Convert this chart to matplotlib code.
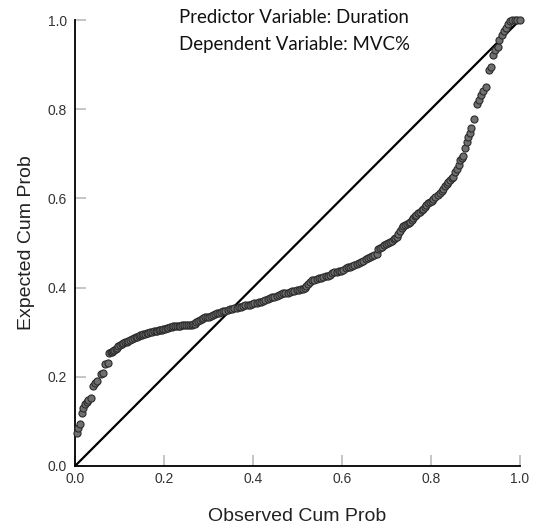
import numpy as np
import matplotlib
matplotlib.use("Agg")
import matplotlib.pyplot as plt

# observed vs expected cumulative probability
obs = [0.004, 0.007, 0.011, 0.015, 0.019, 0.022, 0.026, 0.030, 0.035, 0.040,
       0.045, 0.050, 0.058, 0.062, 0.067, 0.073, 0.077, 0.080, 0.082, 0.085,
       0.088, 0.091, 0.094, 0.097, 0.101, 0.105, 0.108, 0.112, 0.116, 0.120,
       0.124, 0.128, 0.132, 0.136, 0.139, 0.143, 0.147, 0.150, 0.153, 0.157,
       0.161, 0.165, 0.169, 0.173, 0.177, 0.181, 0.184, 0.188, 0.191, 0.195,
       0.198, 0.202, 0.206, 0.210, 0.213, 0.217, 0.221, 0.225, 0.229, 0.233,
       0.237, 0.241, 0.245, 0.249, 0.253, 0.258, 0.262, 0.266, 0.270, 0.273,
       0.277, 0.281, 0.285, 0.288, 0.292, 0.296, 0.300, 0.305, 0.310, 0.314,
       0.318, 0.323, 0.328, 0.333, 0.338, 0.343, 0.348, 0.353, 0.358, 0.363,
       0.368, 0.373, 0.378, 0.383, 0.388, 0.393, 0.398, 0.403, 0.408, 0.413,
       0.418, 0.423, 0.428, 0.433, 0.438, 0.443, 0.448, 0.453, 0.458, 0.463,
       0.468, 0.473, 0.478, 0.483, 0.488, 0.493, 0.498, 0.503, 0.508, 0.513,
       0.517, 0.520, 0.524, 0.528, 0.533, 0.538, 0.543, 0.548, 0.553, 0.558,
       0.563, 0.568, 0.573, 0.578, 0.583, 0.588, 0.593, 0.598, 0.603, 0.608,
       0.613, 0.618, 0.623, 0.628, 0.633, 0.638, 0.643, 0.648, 0.653, 0.658,
       0.663, 0.668, 0.673, 0.678, 0.682, 0.686, 0.690, 0.695, 0.700, 0.704,
       0.708, 0.712, 0.716, 0.720, 0.724, 0.727, 0.730, 0.734, 0.738, 0.742,
       0.746, 0.750, 0.753, 0.757, 0.760, 0.764, 0.767, 0.771, 0.775, 0.779,
       0.782, 0.786, 0.790, 0.794, 0.798, 0.802, 0.805, 0.810, 0.815, 0.820,
       0.824, 0.828, 0.831, 0.835, 0.839, 0.843, 0.847, 0.850, 0.855, 0.858,
       0.862, 0.865, 0.869, 0.873, 0.876, 0.880, 0.884, 0.888, 0.891, 0.897,
       0.903, 0.909, 0.912, 0.918, 0.924, 0.931, 0.934, 0.940, 0.945, 0.950,
       0.954, 0.959, 0.964, 0.969, 0.974, 0.978, 0.983, 0.989, 0.994, 1.000]
exp = [0.075, 0.085, 0.094, 0.118, 0.129, 0.139, 0.144, 0.148, 0.153, 0.179,
       0.185, 0.191, 0.206, 0.209, 0.228, 0.232, 0.254, 0.255, 0.256, 0.258,
       0.260, 0.263, 0.265, 0.268, 0.271, 0.273, 0.275, 0.277, 0.279, 0.281,
       0.283, 0.285, 0.287, 0.289, 0.290, 0.291, 0.293, 0.294, 0.295, 0.296,
       0.298, 0.299, 0.300, 0.301, 0.302, 0.303, 0.303, 0.304, 0.305, 0.306,
       0.307, 0.308, 0.309, 0.310, 0.311, 0.312, 0.313, 0.313, 0.314, 0.315,
       0.315, 0.316, 0.316, 0.316, 0.317, 0.317, 0.317, 0.318, 0.318, 0.322,
       0.326, 0.328, 0.330, 0.331, 0.333, 0.334, 0.335, 0.337, 0.339, 0.341,
       0.343, 0.344, 0.345, 0.347, 0.348, 0.349, 0.351, 0.352, 0.354, 0.355,
       0.356, 0.357, 0.359, 0.360, 0.361, 0.362, 0.363, 0.365, 0.366, 0.367,
       0.368, 0.370, 0.372, 0.374, 0.376, 0.378, 0.379, 0.381, 0.383, 0.385,
       0.387, 0.388, 0.389, 0.390, 0.392, 0.393, 0.394, 0.395, 0.396, 0.397,
       0.398, 0.403, 0.408, 0.413, 0.416, 0.418, 0.420, 0.421, 0.422, 0.423,
       0.425, 0.426, 0.429, 0.432, 0.434, 0.436, 0.437, 0.438, 0.440, 0.443,
       0.446, 0.447, 0.449, 0.451, 0.453, 0.456, 0.458, 0.460, 0.463, 0.466,
       0.468, 0.470, 0.472, 0.475, 0.486, 0.489, 0.492, 0.495, 0.498, 0.500,
       0.502, 0.505, 0.508, 0.511, 0.514, 0.520, 0.526, 0.533, 0.537, 0.540,
       0.542, 0.545, 0.548, 0.552, 0.556, 0.560, 0.563, 0.567, 0.570, 0.574,
       0.577, 0.581, 0.585, 0.589, 0.592, 0.595, 0.599, 0.603, 0.607, 0.612,
       0.616, 0.621, 0.627, 0.632, 0.636, 0.641, 0.645, 0.649, 0.660, 0.667,
       0.676, 0.686, 0.690, 0.694, 0.713, 0.727, 0.738, 0.746, 0.757, 0.778,
       0.811, 0.821, 0.832, 0.841, 0.850, 0.888, 0.894, 0.922, 0.933, 0.940,
       0.955, 0.966, 0.975, 0.983, 0.990, 0.998, 1.000, 1.000, 1.000, 1.000]

ticks = [0.0, 0.2, 0.4, 0.6, 0.8, 1.0]
tick_labels = ["0.0", "0.2", "0.4", "0.6", "0.8", "1.0"]

plt.rcParams['font.family'] = ['Liberation Sans', 'DejaVu Sans']

fig = plt.figure(figsize=(5.36, 5.25), dpi=100)
ax = fig.add_axes([0.140, 0.1124, 0.830, 0.8495])

# reference line
ax.plot([0, 1], [0, 1], color='black', lw=1.6, zorder=2)

ax.scatter(obs, exp, s=26, facecolor='#6f6f6f', edgecolor='#2b2b2b',
           linewidths=0.8, zorder=3, clip_on=False)

ax.set_xlim(0, 1)
ax.set_ylim(0, 1)
ax.set_xticks(ticks)
ax.set_xticklabels(tick_labels)
ax.set_yticks(ticks)
ax.set_yticklabels(tick_labels)
ax.tick_params(direction='in', length=8, width=1.2, color='#bbbbbb',
               labelsize=10, labelcolor='#333333', pad=6)
ax.tick_params(axis='x', pad=4)

for side in ['top', 'right']:
    ax.spines[side].set_visible(False)
for side in ['left', 'bottom']:
    ax.spines[side].set_color('black')
    ax.spines[side].set_linewidth(1.3)

ax.set_xlabel("Observed Cum Prob", fontsize=14, color='#222222', labelpad=16)
ax.set_ylabel("Expected Cum Prob", fontsize=14, color='#222222', labelpad=9)

fig.text(0.549, 0.966, "Predictor Variable: Duration", fontsize=13.4,
         family=['Lato', 'DejaVu Sans'], ha='center', va='center', color='#111111')
fig.text(0.549, 0.916, "Dependent Variable: MVC%", fontsize=13.4,
         family=['Lato', 'DejaVu Sans'], ha='center', va='center', color='#111111')

fig.savefig("out.png", dpi=100)
